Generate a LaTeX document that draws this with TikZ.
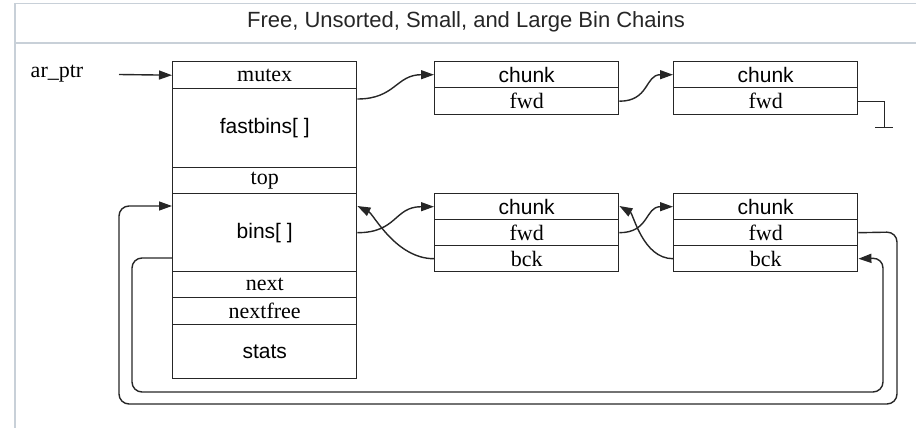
\documentclass[tikz,border=0pt]{standalone}
\usepackage{fontspec}
\setmainfont{Liberation Serif}
\newfontfamily\sansf{Liberation Sans}
\usetikzlibrary{arrows.meta,calc}

\definecolor{framec}{HTML}{C8D0D8}
\definecolor{inkc}{HTML}{262626}

\tikzset{
  cell/.style={draw=inkc, line width=1.4pt, anchor=north west, inner sep=0pt,
               minimum width=184pt, text=black},
  serift/.style={font=\fontsize{22}{24}\selectfont},
  sanst/.style={font=\sansf\fontsize{21}{24}\selectfont},
  link/.style={draw=inkc, line width=1.4pt,
               -{Triangle[length=13pt,width=9pt]}},
  plain/.style={draw=inkc, line width=1.4pt},
  loop/.style={link, rounded corners=10pt},
}

\begin{document}
\begin{tikzpicture}[x=1pt, y=-1pt]
\useasboundingbox (0,0) rectangle (916,428);

% page frame and title band
\draw[framec, line width=1.2pt] (916,3.5) -- (15,3.5) -- (15,428);
\draw[framec, line width=1.2pt] (15,43) -- (916,43);
\node[font=\sansf\fontsize{22}{24}\selectfont, text=black!85] (title) at (466,22)
  {Free, Unsorted, Small, and Large Bin Chains};

% arena structure
\node[cell, serift, minimum height=27pt] (mutex) at (172,61) {mutex};
\node[cell, sanst,  minimum height=79pt] (fast)  at (172,88) {fastbins[ ]};
\node[cell, serift, minimum height=26pt] (top)   at (172,167) {top};
\node[cell, sanst,  minimum height=78pt] (bins)  at (172,193) {bins[ ]};
\node[cell, serift, minimum height=26pt] (next)  at (172,271) {next};
\node[cell, serift, minimum height=27pt] (nfree) at (172,297) {nextfree};
\node[cell, sanst,  minimum height=54pt] (stats) at (172,324) {stats};

% fast bin chain
\node[cell, sanst,  minimum height=26pt] (fa)    at (434,61) {chunk};
\node[cell, serift, minimum height=27pt] (faf)   at (434,87) {fwd};
\node[cell, sanst,  minimum height=26pt] (fb)    at (673,61) {chunk};
\node[cell, serift, minimum height=27pt] (fbf)   at (673,87) {fwd};

% doubly linked bin chain
\node[cell, sanst,  minimum height=26pt] (ba)    at (434,193) {chunk};
\node[cell, serift, minimum height=26pt] (baf)   at (434,219) {fwd};
\node[cell, serift, minimum height=26pt] (bab)   at (434,245) {bck};
\node[cell, sanst,  minimum height=26pt] (bb)    at (673,193) {chunk};
\node[cell, serift, minimum height=26pt] (bbf)   at (673,219) {fwd};
\node[cell, serift, minimum height=26pt] (bbb)   at (673,245) {bck};

% entry pointer
\node[serift] (arptr) at (57,74) {ar\_ptr};
\coordinate (arstart) at (119,74.5);
\draw[link] (arstart) -- (mutex.west);

% fast bin links
\coordinate (fastout) at ($(fast.north east)+(0,11)$);
\draw[link] (fastout) .. controls +(38,0) and +(-38,0) .. (fa.west);
\draw[link] (faf.east) .. controls +(30,0) and +(-28,0) .. (fb.west);
\coordinate (nilturn) at ($(fbf.east)+(26,0)$);
\coordinate (nilend) at ($(nilturn)+(0,26.5)$);
\draw[plain] (fbf.east) -- (nilturn) -- (nilend);
\draw[plain] ($(nilend)+(-9,0)$) -- ($(nilend)+(9,0)$);

% bin list links
\coordinate (binsin)  at ($(bins.north east)+(0,13)$);
\coordinate (bain)    at ($(ba.north east)+(0,13)$);
\draw[link] (bins.east) .. controls +(40,0) and +(-40,0) .. (ba.west);
\draw[link] (bab.west) .. controls +(-38,0) and +(16,8) .. (binsin);
\draw[link] (baf.east) .. controls +(30,0) and +(-28,0) .. (bb.west);
\draw[link] (bbb.west) .. controls +(-30,0) and +(14,8) .. (bain);

% wrap-around links
\coordinate (binsleft) at ($(bins.north west)+(0,13)$);
\coordinate (binsback) at ($(bins.north west)+(0,65)$);
\draw[loop] (bbf.east) -- (897,232) -- (897,404) -- (119,404) -- (119,206) -- (binsleft);
\draw[loop] (binsback) -- (132,258) -- (132,392) -- (883,392) -- (883,258) -- (bbb.east);
\end{tikzpicture}
\end{document}
